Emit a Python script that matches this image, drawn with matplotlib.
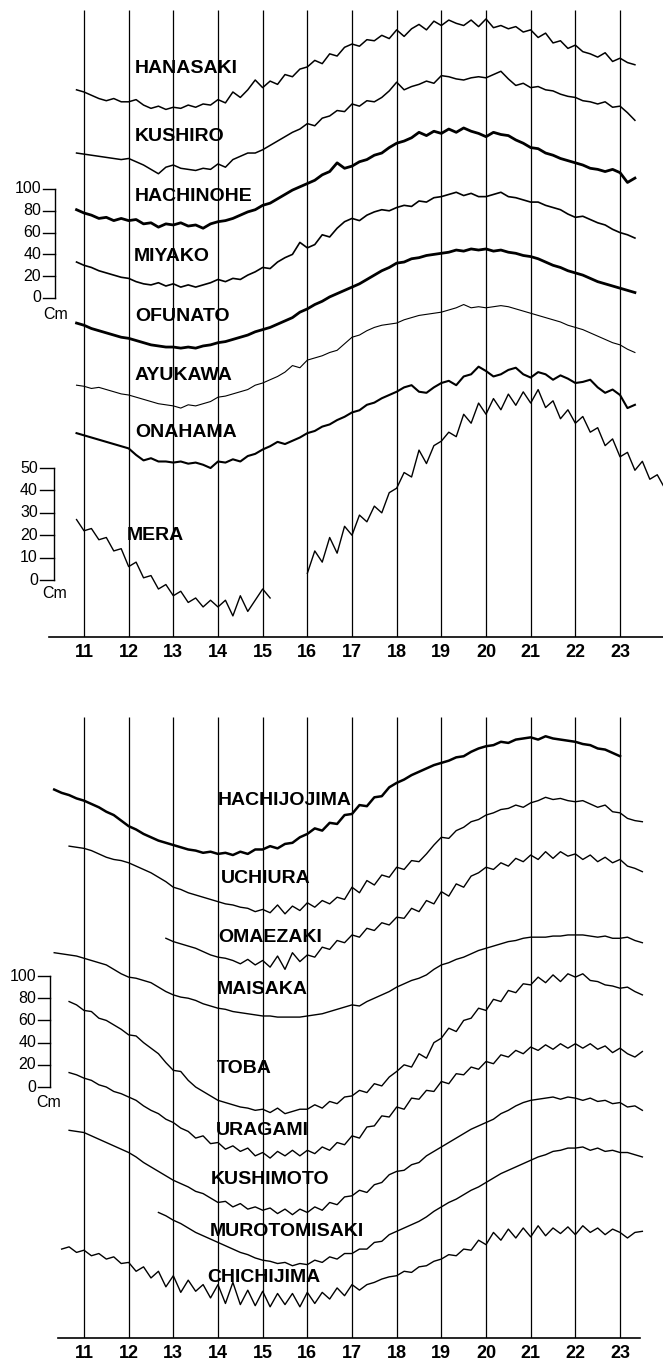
import numpy as np
import matplotlib.pyplot as plt

plt.rcParams['font.family'] = ['Liberation Sans', 'DejaVu Sans']

hours = list(range(11, 24))
step = 1 / 6  # readings every 10 minutes

# ---- upper panel, cm read on the 0-100 scale bar ----
hanasaki_start = 10 + 50 / 60
hanasaki_cm = [191,
               189, 186, 183, 181, 183, 180, 180, 182, 177, 174, 176, 173,
               175, 174, 177, 175, 178, 177, 182, 179, 189, 184, 191, 200,
               193, 199, 196, 205, 203, 210, 212, 218, 215, 224, 222, 230,
               233, 231, 237, 236, 241, 238, 246, 240, 247, 251, 246, 254,
               250, 255, 252, 250, 255, 249, 256, 248, 250, 247, 249, 244,
               246, 239, 243, 234, 236, 229, 232, 226, 224, 221, 225, 217,
               220, 216, 214]

kushiro_start = 10 + 50 / 60
kushiro_cm = [133,
              132, 131, 130, 129, 128, 127, 128, 125, 122, 118, 114, 120,
              122, 119, 118, 117, 119, 118, 123, 120, 127, 130, 133, 133,
              136, 140, 144, 148, 152, 155, 160, 158, 165, 167, 172, 171,
              178, 176, 181, 180, 184, 190, 198, 191, 194, 196, 199, 197,
              204, 203, 201, 200, 202, 203, 202, 205, 208, 201, 195, 197,
              193, 194, 191, 190, 187, 185, 184, 181, 180, 178, 180, 175,
              176, 170, 163]

hachinohe_start = 10 + 50 / 60
hachinohe_cm = [81,
                78, 76, 73, 74, 71, 73, 71, 72, 68, 69, 65, 68,
                67, 69, 66, 67, 64, 68, 70, 71, 73, 76, 79, 81,
                85, 87, 91, 95, 99, 102, 105, 108, 113, 116, 124, 119,
                121, 125, 127, 131, 133, 138, 142, 144, 147, 152, 149, 153,
                151, 155, 152, 156, 153, 151, 148, 152, 150, 149, 145, 142,
                138, 137, 133, 131, 128, 126, 124, 122, 119, 118, 116, 118,
                115, 106, 110]

miyako_start = 10 + 50 / 60
miyako_cm = [33,
             30, 28, 25, 23, 21, 19, 18, 15, 13, 12, 14, 11,
             13, 10, 12, 10, 12, 14, 17, 15, 18, 17, 21, 24,
             28, 27, 33, 37, 40, 51, 46, 49, 58, 56, 64, 70,
             73, 71, 76, 79, 81, 80, 83, 85, 84, 89, 88, 92,
             93, 95, 97, 94, 96, 93, 93, 95, 97, 93, 92, 90,
             88, 88, 85, 83, 81, 77, 74, 75, 72, 69, 67, 63,
             60, 58, 55]

ofunato_start = 10 + 50 / 60
ofunato_cm = [-23,
              -25, -28, -30, -32, -34, -36, -37, -39, -41, -43, -44, -45,
              -45, -46, -45, -46, -44, -43, -41, -40, -38, -36, -34, -31,
              -29, -27, -24, -21, -18, -13, -10, -6, -3, 1, 4, 7,
              10, 13, 17, 21, 25, 28, 32, 33, 36, 37, 39, 40,
              41, 42, 44, 43, 45, 44, 45, 43, 44, 42, 41, 39,
              38, 36, 33, 30, 28, 25, 23, 21, 18, 15, 13, 11,
              9, 7, 5]

ayukawa_start = 10 + 50 / 60
ayukawa_cm = [-80,
              -81, -83, -82, -84, -86, -88, -89, -91, -93, -95, -97, -98,
              -99, -101, -98, -99, -97, -95, -91, -90, -88, -86, -84, -80,
              -78, -75, -72, -68, -62, -64, -57, -55, -53, -50, -48, -42,
              -36, -34, -30, -27, -25, -24, -23, -20, -18, -16, -15, -14,
              -13, -11, -9, -6, -9, -8, -9, -8, -7, -8, -10, -12,
              -14, -16, -18, -20, -22, -25, -27, -29, -32, -35, -38, -41,
              -43, -47, -50]

onahama_start = 10 + 50 / 60
onahama_cm = [-124,
              -126, -128, -130, -132, -134, -136, -138, -144, -149, -147, -150, -150,
              -151, -150, -152, -151, -153, -156, -150, -151, -148, -150, -145, -143,
              -139, -136, -132, -134, -131, -128, -124, -122, -118, -116, -112, -109,
              -105, -103, -98, -96, -92, -89, -86, -82, -80, -86, -87, -82,
              -78, -76, -80, -72, -70, -63, -67, -72, -70, -66, -64, -70,
              -73, -68, -70, -75, -71, -74, -78, -77, -75, -82, -87, -84,
              -89, -101, -98]

# MERA, on its own 0-50 cm scale; the record breaks between 15.2 h and 16 h
mera1_start = 10 + 50 / 60
mera1_cm = [27,
            22, 23, 18, 19, 13, 14, 6, 8, 1, 2, -4, -2,
            -7, -5, -10, -8, -12, -9, -12, -9, -16, -7, -14, -9,
            -4, -8]
mera2_start = 16.0
mera2_cm = [3, 13, 8, 19, 12, 24,
            20, 29, 26, 33, 30, 39,
            41, 48, 46, 58, 52, 60,
            62, 66, 64, 74, 70, 79,
            74, 81, 76, 83, 78, 84,
            79, 85, 77, 80, 72, 76,
            70, 73, 66, 68, 60, 63,
            55, 57, 49, 53, 45, 47,
            41]

# ---- lower panel ----
hachijojima_start = 10 + 20 / 60
hachijojima_cm = [268, 265, 263, 260,
                  258, 255, 252, 248, 245, 240, 235, 232, 228, 225, 222, 220,
                  218, 216, 214, 213, 211, 212, 210, 211, 209, 212, 210, 214,
                  214, 217, 215, 219, 220, 225, 228, 233, 231, 238, 237, 245,
                  246, 254, 253, 261, 262, 270, 274, 277, 281, 284, 287, 290,
                  292, 294, 297, 298, 302, 305, 307, 308, 311, 310, 313, 314,
                  315, 313, 316, 314, 313, 312, 311, 309, 308, 305, 304, 301,
                  298]

uchiura_start = 10 + 40 / 60
uchiura_cm = [217, 216,
              215, 213, 210, 207, 205, 204, 202, 199, 196, 193, 189, 185,
              180, 178, 175, 173, 171, 169, 167, 165, 164, 162, 161, 158,
              160, 157, 164, 156, 163, 159, 166, 162, 168, 165, 171, 169,
              180, 175, 186, 182, 191, 189, 198, 196, 204, 203, 210, 218,
              225, 224, 231, 234, 239, 241, 245, 247, 250, 251, 254, 252,
              256, 258, 261, 259, 260, 258, 257, 258, 255, 252, 254, 248,
              247, 242, 240, 239]

omaezaki_start = 12 + 50 / 60
omaezaki_cm = [134,
               131, 129, 127, 125, 122, 119, 117, 116, 114, 111, 115, 110,
               114, 108, 118, 106, 121, 113, 119, 117, 126, 124, 132, 130,
               137, 135, 143, 141, 148, 146, 153, 152, 161, 158, 168, 165,
               176, 172, 183, 180, 190, 193, 198, 196, 202, 199, 206, 203,
               209, 205, 212, 206, 212, 208, 210, 205, 209, 203, 207, 202,
               205, 199, 197, 194]

maisaka_start = 10 + 20 / 60
maisaka_cm = [121, 120, 119, 118,
              116, 114, 112, 110, 106, 102, 99, 98, 96, 94, 90, 86,
              83, 81, 80, 78, 75, 73, 71, 70, 68, 67, 66, 65,
              64, 64, 63, 63, 63, 63, 64, 65, 66, 68, 70, 72,
              74, 73, 77, 80, 83, 86, 90, 93, 96, 98, 101, 106,
              110, 112, 115, 117, 120, 123, 125, 127, 129, 131, 132, 134,
              135, 135, 135, 136, 136, 137, 137, 137, 136, 135, 136, 134,
              134, 135, 132, 130]

toba_start = 10 + 40 / 60
toba_cm = [77, 74,
           69, 68, 62, 60, 56, 52, 47, 46, 40, 35, 30, 22,
           15, 14, 6, 0, -4, -8, -12, -14, -16, -18, -19, -21,
           -20, -23, -19, -24, -22, -20, -20, -16, -19, -13, -15, -9,
           -8, -3, -5, 3, 1, 9, 14, 20, 18, 30, 26, 40,
           44, 53, 50, 60, 62, 71, 69, 79, 77, 87, 85, 93,
           92, 99, 94, 101, 95, 102, 99, 102, 96, 95, 92, 91,
           89, 90, 86, 83]

uragami_start = 10 + 40 / 60
uragami_cm = [13, 11,
              8, 6, 2, 0, -4, -6, -9, -12, -17, -21, -24, -29,
              -32, -37, -40, -46, -44, -51, -50, -56, -53, -58, -55, -62,
              -59, -64, -58, -62, -57, -62, -57, -60, -54, -57, -50, -52,
              -44, -46, -36, -35, -26, -27, -18, -20, -10, -11, -3, -4,
              5, 3, 12, 11, 18, 16, 23, 21, 29, 27, 33, 30,
              36, 33, 38, 34, 39, 35, 39, 35, 39, 34, 37, 31,
              35, 30, 27, 32]

kushimoto_start = 10 + 40 / 60
kushimoto_cm = [-39, -40,
                -41, -44, -47, -50, -53, -56, -59, -63, -68, -72, -76, -80,
                -84, -87, -90, -94, -96, -100, -104, -103, -108, -105, -110, -108,
                -111, -109, -114, -110, -115, -110, -113, -108, -111, -104, -106, -99,
                -98, -93, -95, -88, -86, -79, -76, -75, -70, -68, -62, -58,
                -54, -50, -46, -42, -38, -35, -32, -29, -24, -21, -17, -14,
                -12, -11, -10, -9, -11, -9, -10, -12, -10, -13, -12, -15,
                -14, -18, -17, -21]

murotomisaki_start = 12 + 40 / 60
murotomisaki_cm = [-113, -116,
                   -120, -123, -127, -131, -134, -137, -140, -143, -146, -149, -151, -154,
                   -156, -157, -159, -158, -161, -159, -160, -156, -158, -153, -155, -150,
                   -150, -146, -146, -140, -139, -133, -130, -127, -124, -121, -117, -112,
                   -108, -104, -101, -97, -93, -90, -86, -82, -78, -75, -72, -69,
                   -66, -63, -61, -58, -57, -55, -55, -54, -57, -55, -58, -57,
                   -59, -59, -61, -63]

chichijima_start = 10 + 30 / 60
chichijima_cm = [-146, -144, -149,
                 -147, -152, -150, -155, -153, -159, -158, -166, -162, -172, -166, -180,
                 -170, -185, -174, -184, -178, -190, -178, -195, -176, -196, -183, -197,
                 -184, -198, -186, -196, -186, -198, -185, -195, -185, -191, -181, -188,
                 -178, -183, -178, -176, -173, -171, -170, -166, -167, -162, -161, -157,
                 -155, -151, -152, -146, -147, -138, -142, -131, -138, -128, -136, -127,
                 -135, -125, -134, -127, -132, -126, -133, -125, -131, -127, -133, -128,
                 -131, -136, -131, -130]

scale_cm = [0, 20, 40, 60, 80, 100]
mera_scale_cm = [0, 10, 20, 30, 40, 50]


def times(start, vals):
    return start + np.arange(len(vals)) * step


X0, X1 = 9.12, 23.962
fig = plt.figure(figsize=(6.63, 13.66), dpi=100)


def setup(ax, ylim, axis_from, axis_to, line_top):
    ax.set_xlim(X0, X1)
    ax.set_ylim(*ylim)
    for s in ['top', 'right', 'left']:
        ax.spines[s].set_visible(False)
    ax.spines['bottom'].set_bounds(axis_from, axis_to)
    ax.spines['bottom'].set_linewidth(1.2)
    ax.set_yticks([])
    ax.set_xticks(hours)
    ax.set_xticklabels([str(h) for h in hours], fontsize=13, fontweight='bold')
    ax.tick_params(axis='x', length=0, pad=5)
    ax.vlines(hours, ylim[0], line_top, color='black', lw=0.9)
    ax.patch.set_alpha(0)


def scale_bar(ax, xs, x_tick, x_lab, vals, unit_pos):
    ax.plot([xs, xs], [vals[0], vals[-1]], color='black', lw=1.0)
    for v in vals:
        ax.plot([x_tick, xs], [v, v], color='black', lw=1.0)
        ax.text(x_lab, v, str(v), ha='right', va='center', fontsize=11.5)
    ax.text(unit_pos[0], unit_pos[1], 'Cm', ha='left', va='center', fontsize=11.5)


# upper panel
ax1 = fig.add_axes([0, 0.5337, 1, 0.4663])
setup(ax1, (-311, 273.4), 10.22, 23.962, 264)
top = [
    ('HANASAKI', hanasaki_start, hanasaki_cm, 1.1, (12.14, 211)),
    ('KUSHIRO', kushiro_start, kushiro_cm, 1.1, (12.14, 148)),
    ('HACHINOHE', hachinohe_start, hachinohe_cm, 2.0, (12.14, 93)),
    ('MIYAKO', miyako_start, miyako_cm, 1.2, (12.12, 38)),
    ('OFUNATO', ofunato_start, ofunato_cm, 2.0, (12.14, -17)),
    ('AYUKAWA', ayukawa_start, ayukawa_cm, 0.8, (12.14, -71)),
    ('ONAHAMA', onahama_start, onahama_cm, 1.5, (12.14, -123)),
]
for name, t0, v, lw, pos in top:
    ax1.plot(times(t0, v), v, color='black', lw=lw)
    ax1.text(pos[0], pos[1], name, ha='left', va='center', fontsize=14, fontweight='bold')
scale_bar(ax1, 10.35, 10.08, 10.04, scale_cm, (10.08, -15))

# MERA on its own vertical scale, same time axis
axm = fig.add_axes([0, 0.5337, 1, 0.4663])
axm.set_xlim(X0, X1)
axm.set_ylim(-25.4, 258.9)
axm.axis('off')
axm.plot(times(mera1_start, mera1_cm), mera1_cm, color='black', lw=1.0)
axm.plot(times(mera2_start, mera2_cm), mera2_cm, color='black', lw=1.0)
axm.text(11.96, 20, 'MERA', ha='left', va='center', fontsize=14, fontweight='bold')
scale_bar(axm, 10.33, 10.01, 9.97, mera_scale_cm, (10.06, -6.2))

# lower panel
ax2 = fig.add_axes([0, 0.0205, 1, 0.4744])
setup(ax2, (-226.1, 357.7), 10.42, 23.45, 333)
bottom = [
    ('HACHIJOJIMA', hachijojima_start, hachijojima_cm, 1.8, (14.0, 258)),
    ('UCHIURA', uchiura_start, uchiura_cm, 1.0, (14.07, 188)),
    ('OMAEZAKI', omaezaki_start, omaezaki_cm, 1.0, (14.0, 135)),
    ('MAISAKA', maisaka_start, maisaka_cm, 1.0, (13.98, 88)),
    ('TOBA', toba_start, toba_cm, 1.0, (13.98, 17)),
    ('URAGAMI', uragami_start, uragami_cm, 1.0, (13.96, -39)),
    ('KUSHIMOTO', kushimoto_start, kushimoto_cm, 1.0, (13.84, -83)),
    ('MUROTOMISAKI', murotomisaki_start, murotomisaki_cm, 1.0, (13.82, -130)),
    ('CHICHIJIMA', chichijima_start, chichijima_cm, 1.0, (13.75, -172)),
]
for name, t0, v, lw, pos in bottom:
    ax2.plot(times(t0, v), v, color='black', lw=lw)
    ax2.text(pos[0], pos[1], name, ha='left', va='center', fontsize=14, fontweight='bold')
scale_bar(ax2, 10.24, 9.97, 9.93, scale_cm, (9.93, -13.5))

fig.savefig('out.png', dpi=100)
